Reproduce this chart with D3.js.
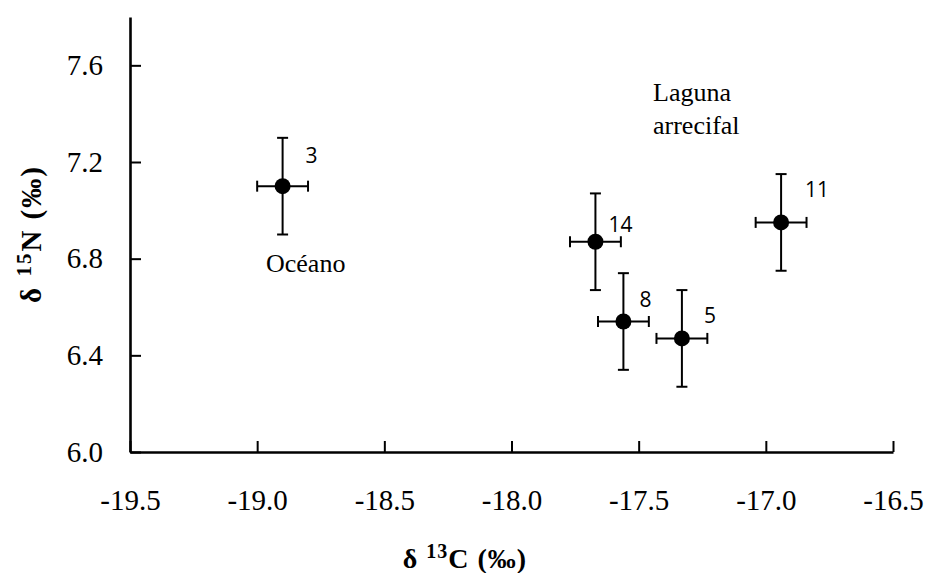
<!DOCTYPE html>
<meta charset="utf-8">
<script src="https://d3js.org/d3.v7.min.js"></script>
<style>
  body { margin: 0; background: #fff; }
</style>
<div id="chart"></div>
<script>
  // data
  var sites = ["3", "14", "8", "5", "11"];
  var d13C = [-18.9, -17.67, -17.56, -17.33, -16.94];
  var d15N = [7.10, 6.87, 6.54, 6.47, 6.95];
  var errC = [0.10, 0.10, 0.10, 0.10, 0.10];
  var errN = [0.20, 0.20, 0.20, 0.20, 0.20];
  var xTicks = [-19.5, -19.0, -18.5, -18.0, -17.5, -17.0, -16.5];
  var yTicks = [6.0, 6.4, 6.8, 7.2, 7.6];

  var data = sites.map(function (s, i) {
    return { n: s, x: d13C[i], y: d15N[i], ex: errC[i], ey: errN[i] };
  });

  // label offsets (px) from each point, as placed in the original
  var labelOffset = [[23, -23], [13, -10], [16, -15], [22, -15], [24, -25]];

  var serif = "Liberation Serif";
  var sans = "Open Sans";

  var W = 929, H = 573;
  var svg = d3.select("#chart").append("svg")
    .attr("width", W)
    .attr("height", H);

  var x = d3.scaleLinear().domain([-19.5, -16.5]).range([130, 893]);
  var y = d3.scaleLinear().domain([6.0, 7.8]).range([452, 17]);

  // X axis
  var xAxis = svg.append("g")
    .attr("transform", "translate(0," + y(6.0) + ")")
    .call(d3.axisBottom(x).tickValues(xTicks).tickFormat(d3.format(".1f"))
      .tickSizeInner(-11).tickSizeOuter(0));
  xAxis.attr("font-family", serif).attr("font-size", 29);
  xAxis.select(".domain").attr("stroke-width", 2.6);
  xAxis.selectAll(".tick line").attr("stroke-width", 2);
  xAxis.selectAll(".tick text")
    .attr("y", 58).attr("dy", 0)
    .style("font-family", serif)
    .style("font-size", "29px")
    .text(function (d) { return d3.format(".1f")(d).replace("−", "-"); });

  // Y axis
  var yAxis = svg.append("g")
    .attr("transform", "translate(" + x(-19.5) + ",0)")
    .call(d3.axisLeft(y).tickValues(yTicks).tickFormat(d3.format(".1f"))
      .tickSizeInner(-11).tickSizeOuter(0));
  yAxis.attr("font-family", serif).attr("font-size", 29);
  yAxis.select(".domain").attr("stroke-width", 2.6);
  yAxis.selectAll(".tick line").attr("stroke-width", 2);
  yAxis.selectAll(".tick text")
    .attr("x", -27)
    .style("font-family", serif)
    .style("font-size", "29px");

  // error bars
  var cap = 5.5;
  var g = svg.append("g").attr("stroke", "#000").attr("stroke-width", 2);
  data.forEach(function (d) {
    var cx = x(d.x), cy = y(d.y);
    var x0 = x(d.x - d.ex), x1 = x(d.x + d.ex);
    var y0 = y(d.y - d.ey), y1 = y(d.y + d.ey);
    g.append("line").attr("x1", cx).attr("x2", cx).attr("y1", y0).attr("y2", y1);
    g.append("line").attr("x1", cx - cap).attr("x2", cx + cap).attr("y1", y0).attr("y2", y0);
    g.append("line").attr("x1", cx - cap).attr("x2", cx + cap).attr("y1", y1).attr("y2", y1);
    g.append("line").attr("x1", x0).attr("x2", x1).attr("y1", cy).attr("y2", cy);
    g.append("line").attr("x1", x0).attr("x2", x0).attr("y1", cy - cap).attr("y2", cy + cap);
    g.append("line").attr("x1", x1).attr("x2", x1).attr("y1", cy - cap).attr("y2", cy + cap);
  });

  // points
  svg.selectAll("circle.pt")
    .data(data)
    .enter()
    .append("circle")
    .attr("class", "pt")
    .attr("cx", function (d) { return x(d.x); })
    .attr("cy", function (d) { return y(d.y); })
    .attr("r", 8)
    .attr("fill", "#000");

  // sample size labels
  svg.selectAll("text.n")
    .data(data)
    .enter()
    .append("text")
    .attr("class", "n")
    .attr("x", function (d, i) { return x(d.x) + labelOffset[i][0]; })
    .attr("y", function (d, i) { return y(d.y) + labelOffset[i][1]; })
    .style("font-family", sans)
    .style("font-size", "21px")
    .text(function (d) { return d.n; });

  // group annotations
  function note(tx, ty, s) {
    svg.append("text")
      .attr("x", tx).attr("y", ty)
      .style("font-family", serif).style("font-size", "26px")
      .text(s);
  }
  note(266, 272, "Océano");
  note(653, 101, "Laguna");
  note(653, 134, "arrecifal");

  // X axis title
  var xt = svg.append("text")
    .attr("x", 465).attr("y", 568)
    .attr("text-anchor", "middle")
    .style("font-family", serif)
    .style("font-size", "28px")
    .style("font-weight", "bold")
    .style("letter-spacing", "1px");
  xt.append("tspan").text("δ ");
  xt.append("tspan").attr("dy", -10).style("font-size", "20px").text("13");
  xt.append("tspan").attr("dy", 10).text("C (‰)");

  // Y axis title
  var yt = svg.append("text")
    .attr("transform", "translate(41,234) rotate(-90)")
    .attr("text-anchor", "middle")
    .style("font-family", serif)
    .style("font-size", "29px")
    .style("font-weight", "bold")
    .style("letter-spacing", "2px");
  yt.append("tspan").text("δ ");
  yt.append("tspan").attr("dy", -10).style("font-size", "21px").text("15");
  yt.append("tspan").attr("dy", 10).text("N (‰)");
</script>
